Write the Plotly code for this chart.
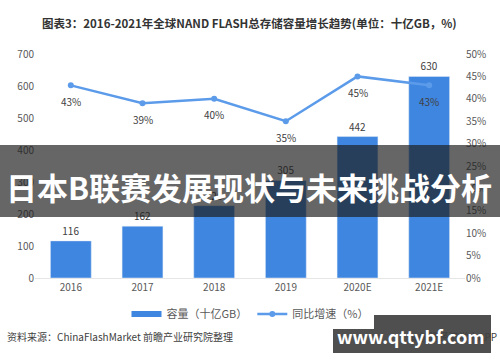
import plotly.graph_objects as go

years = ["2016", "2017", "2018", "2019", "2020E", "2021E"]
capacity = [116, 162, 226, 305, 442, 630]
growth = [43, 39, 40, 35, 45, 43]
left_ticks = [0, 100, 200, 300, 400, 500, 600, 700]
right_ticks = [0, 5, 10, 15, 20, 25, 30, 35, 40, 45, 50]

FONT = "Noto Sans CJK SC"
W, H = 500, 362
L, R, T, B = 35, 35, 54, 84
PW, PH = W - L - R, H - T - B
BAR_C = "#3F86E0"
LINE_C = "#5B9BEA"

def px(x):
    return (x - L) / PW

def py(y):
    return (H - B - y) / PH

fig = go.Figure()
fig.add_trace(go.Bar(
    x=years, y=capacity, name="容量（十亿GB）", showlegend=False,
    marker=dict(color=BAR_C),
    text=[str(v) for v in capacity], textposition="outside",
    textfont=dict(size=10, color="#404040"), cliponaxis=False,
))
# legend-only entry giving the wide rectangular swatch of the bar series
fig.add_trace(go.Scatter(
    x=[None], y=[None], name="容量（十亿GB）", mode="lines",
    line=dict(color=BAR_C, width=6),
))
fig.add_trace(go.Scatter(
    x=years, y=growth, name="同比增速（%）", yaxis="y2",
    mode="lines+markers",
    line=dict(color=LINE_C, width=2.5),
    marker=dict(size=6, color=LINE_C),
    cliponaxis=False,
))
for i, g in enumerate(growth):
    fig.add_annotation(x=i, y=g, xref="x", yref="y2", text=f"{g}%", showarrow=False,
                       yshift=-16, font=dict(size=10, color="#404040", family=FONT))

fig.update_layout(
    width=W, height=H,
    margin=dict(l=L, r=R, t=T, b=B),
    paper_bgcolor="white", plot_bgcolor="white",
    font=dict(family=FONT, size=10, color="#595959"),
    bargap=0.43,
    showlegend=True,
    legend=dict(orientation="h", x=0.5, xanchor="center", y=py(314), yanchor="middle",
                font=dict(size=11, color="#595959"), itemwidth=30),
    xaxis=dict(type="category", range=[-0.5, 5.5], showgrid=False, showline=True,
               linecolor="#E6E6E6", linewidth=1, ticks="",
               tickfont=dict(size=10, color="#595959")),
    yaxis=dict(range=[0, 700], tickvals=left_ticks, showgrid=False, zeroline=False,
               showline=False, tickfont=dict(size=10, color="#595959")),
    yaxis2=dict(range=[0, 50], tickvals=right_ticks, ticktext=[f"{v}%" for v in right_ticks],
                overlaying="y", side="right", showgrid=False, zeroline=False,
                tickfont=dict(size=10, color="#595959")),
)

fig.add_annotation(
    text="<b>图表3：2016-2021年全球NAND FLASH总存储容量增长趋势(单位：十亿GB，%)</b>",
    xref="paper", yref="paper", x=px(249), y=py(23), xanchor="center", yanchor="middle",
    showarrow=False, font=dict(size=11.5, color="#333333", family=FONT),
)
fig.add_annotation(
    text="资料来源：ChinaFlashMarket 前瞻产业研究院整理",
    xref="paper", yref="paper", x=px(5), y=py(336), xanchor="left", yanchor="middle",
    showarrow=False, font=dict(size=10, color="#404040", family=FONT),
)
fig.add_annotation(
    text="@前瞻经济学人APP",
    xref="paper", yref="paper", x=px(499), y=py(336), xanchor="right", yanchor="middle",
    showarrow=False, font=dict(size=10, color="#404040", family=FONT),
)

# overlay banner
fig.add_shape(type="rect", xref="paper", yref="paper",
              x0=px(0), x1=px(500), y0=py(217), y1=py(145),
              fillcolor="rgba(30,30,30,0.68)", line=dict(width=0), layer="above")
fig.add_annotation(
    text="<b>日本B联赛发展现状与未来挑战分析</b>",
    xref="paper", yref="paper", x=px(249), y=py(186), xanchor="center", yanchor="middle",
    showarrow=False, font=dict(size=31, color="white", family=FONT),
)
# watermark box
fig.add_shape(type="rect", xref="paper", yref="paper",
              x0=px(333), x1=px(491), y0=py(353), y1=py(315),
              fillcolor="rgba(70,70,70,0.95)", line=dict(width=0), layer="above")
fig.add_annotation(
    text="<b>www.qttybf.com</b>",
    xref="paper", yref="paper", x=px(411), y=py(336), xanchor="center", yanchor="middle",
    showarrow=False, font=dict(size=18, color="white", family=FONT),
)

fig.write_html("out.html", config={"displayModeBar": False},
               post_script="document.body.style.margin='0';document.body.style.overflow='hidden';")
